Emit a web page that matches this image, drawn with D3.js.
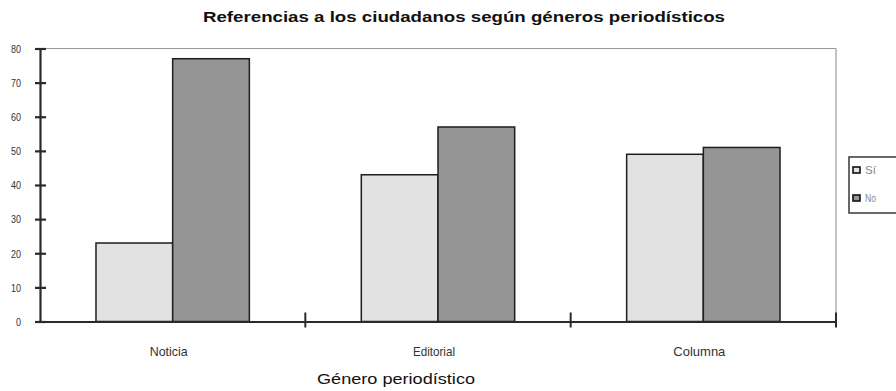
<!DOCTYPE html>
<html>
<head>
<meta charset="utf-8">
<script src="https://cdn.jsdelivr.net/npm/d3@7"></script>
<style>
  html, body { margin: 0; padding: 0; background: #fff; }
  svg { display: block; font-family: "Liberation Sans", Arial, sans-serif; }
</style>
</head>
<body>
<svg id="chart" width="896" height="391"></svg>
<script>
// Referencias a los ciudadanos por género periodístico (%)
const categories = ["Noticia", "Editorial", "Columna"];
const seriesNames = ["Sí", "No"];
const siValues = [23, 43, 49];
const noValues = [77, 57, 51];
const yTickValues = [0, 10, 20, 30, 40, 50, 60, 70, 80];

const rows = categories.map((c, i) => ({ cat: c, "Sí": siValues[i], "No": noValues[i] }));

const svg = d3.select("#chart");
const plot = { left: 40, right: 836, top: 48.5, bottom: 321.5 };

const x0 = d3.scaleBand().domain(categories).range([plot.left, plot.right]).padding(0);
const x1 = d3.scaleBand().domain(seriesNames).range([0, x0.bandwidth()])
  .paddingInner(0).paddingOuter(0.73);
const y = d3.scaleLinear().domain([0, 80]).range([plot.bottom, plot.top]);
const fills = { "Sí": "#e2e2e2", "No": "#959595" };

// Narrow rendering widths for the category labels
const catLabelWidth = { "Noticia": 38, "Editorial": 42, "Columna": 52 };

// Title
svg.append("text")
  .attr("x", 203).attr("y", 22)
  .attr("font-size", 15).attr("font-weight", "bold").attr("fill", "#111")
  .attr("textLength", 522).attr("lengthAdjust", "spacingAndGlyphs")
  .text("Referencias a los ciudadanos según géneros periodísticos");

// Frame: top and right edges of the plot area
svg.append("line")
  .attr("x1", plot.left).attr("x2", plot.right)
  .attr("y1", plot.top).attr("y2", plot.top)
  .attr("stroke", "#9a9a9a").attr("stroke-width", 1.2);
svg.append("line")
  .attr("x1", plot.right).attr("x2", plot.right)
  .attr("y1", plot.top).attr("y2", plot.bottom)
  .attr("stroke", "#9a9a9a").attr("stroke-width", 1.2);

// Bars
const groups = svg.append("g").selectAll("g")
  .data(rows).join("g")
  .attr("transform", d => `translate(${x0(d.cat)},0)`);
groups.selectAll("rect")
  .data(d => seriesNames.map(s => ({ s, v: d[s] })))
  .join("rect")
  .attr("x", d => x1(d.s))
  .attr("y", d => y(d.v))
  .attr("width", x1.bandwidth())
  .attr("height", d => y(0) - y(d.v))
  .attr("fill", d => fills[d.s])
  .attr("stroke", "#1e1e1e").attr("stroke-width", 1.5);

// Y axis
const yAxis = svg.append("g")
  .attr("transform", `translate(${plot.left},0)`)
  .call(d3.axisLeft(y).tickValues(yTickValues).tickSize(0).tickPadding(0).tickFormat(d3.format("d")));
yAxis.select(".domain").attr("stroke", "#2a2a2a").attr("stroke-width", 2.2);
yAxis.selectAll(".tick line").remove();
yAxis.selectAll(".tick").append("line")
  .attr("x1", -5).attr("x2", 6)
  .attr("stroke", "#2a2a2a").attr("stroke-width", 2.2);
yAxis.selectAll(".tick text")
  .attr("x", -19).attr("dy", "0.35em")
  .attr("font-size", 11).attr("fill", "#333")
  .attr("font-family", "'Liberation Sans', Arial, sans-serif")
  .each(function () {
    const t = d3.select(this);
    t.attr("textLength", t.text().length * 5).attr("lengthAdjust", "spacingAndGlyphs");
  });

// X axis
const xAxis = svg.append("g")
  .attr("transform", `translate(0,${plot.bottom})`)
  .call(d3.axisBottom(x0).tickSize(0).tickPadding(0));
xAxis.select(".domain").attr("stroke", "#2a2a2a").attr("stroke-width", 2);
xAxis.selectAll(".tick text")
  .attr("x", -4).attr("y", 25)
  .attr("font-size", 13).attr("fill", "#333")
  .attr("font-family", "'Liberation Sans', Arial, sans-serif")
  .attr("textLength", d => catLabelWidth[d]).attr("lengthAdjust", "spacingAndGlyphs");
// Separators between categories
const boundaries = categories.slice(1).map(c => x0(c)).concat([plot.right]);
xAxis.selectAll(".sep").data(boundaries).join("line")
  .attr("class", "sep")
  .attr("x1", d => d).attr("x2", d => d)
  .attr("y1", -9).attr("y2", 6)
  .attr("stroke", "#2a2a2a").attr("stroke-width", 2);

// X axis title
svg.append("text")
  .attr("x", 317).attr("y", 384)
  .attr("font-size", 15).attr("fill", "#111")
  .attr("textLength", 158).attr("lengthAdjust", "spacingAndGlyphs")
  .text("Género periodístico");

// Legend
const legend = svg.append("g").attr("transform", "translate(849,157)");
legend.append("rect")
  .attr("x", 0).attr("y", 0).attr("width", 52).attr("height", 56)
  .attr("fill", "#fff").attr("stroke", "#444").attr("stroke-width", 1.6);
const items = legend.selectAll(".item").data(seriesNames).join("g")
  .attr("class", "item")
  .attr("transform", (d, i) => `translate(4,${13 + i * 28})`);
items.append("rect")
  .attr("x", 0).attr("y", -3).attr("width", 7).attr("height", 6)
  .attr("fill", d => fills[d]).attr("stroke", "#111").attr("stroke-width", 1.6);
items.append("text")
  .attr("x", 12).attr("y", 0).attr("dy", "0.35em")
  .attr("font-size", 11).attr("fill", "#888")
  .attr("textLength", d => d.length * 5.5).attr("lengthAdjust", "spacingAndGlyphs")
  .text(d => d);
</script>
</body>
</html>
